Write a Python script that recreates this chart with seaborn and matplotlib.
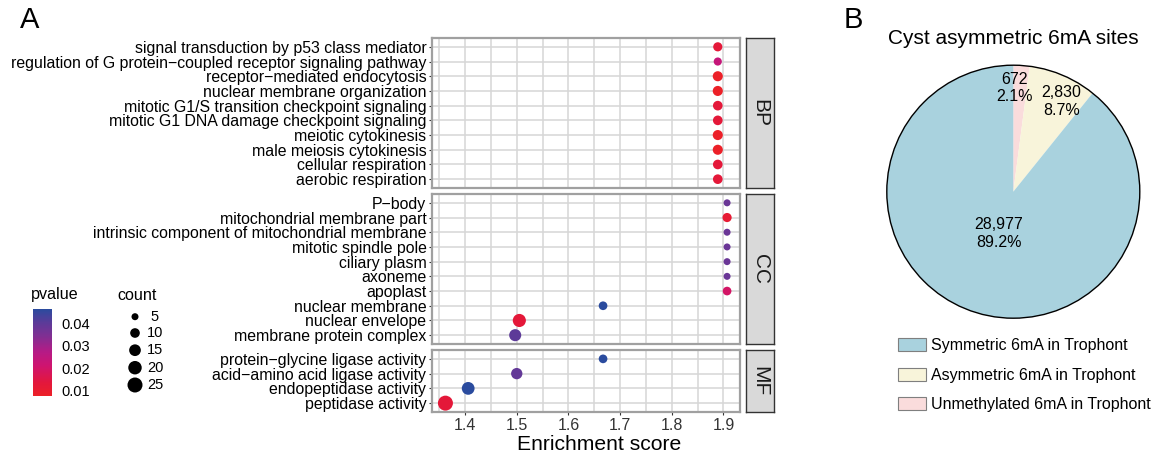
import numpy as np
import pandas as pd
import matplotlib
matplotlib.use("Agg")
import matplotlib.pyplot as plt
import seaborn as sns
from matplotlib.colors import LinearSegmentedColormap, Normalize
from matplotlib.cm import ScalarMappable
from matplotlib.patches import Patch, Circle

# ---------------- data ----------------
bp_terms = ["signal transduction by p53 class mediator",
            "regulation of G protein\u2212coupled receptor signaling pathway",
            "receptor\u2212mediated endocytosis",
            "nuclear membrane organization",
            "mitotic G1/S transition checkpoint signaling",
            "mitotic G1 DNA damage checkpoint signaling",
            "meiotic cytokinesis",
            "male meiosis cytokinesis",
            "cellular respiration",
            "aerobic respiration"]
bp_score = [1.889, 1.889, 1.889, 1.889, 1.889, 1.889, 1.889, 1.889, 1.889, 1.889]
bp_count = [9, 7, 11, 11, 10, 10, 11, 11, 10, 10]
bp_pvalue = [0.0125, 0.0235, 0.0078, 0.0075, 0.0125, 0.0125, 0.0078, 0.0078, 0.0125, 0.0125]

cc_terms = ["P\u2212body",
            "mitochondrial membrane part",
            "intrinsic component of mitochondrial membrane",
            "mitotic spindle pole",
            "ciliary plasm",
            "axoneme",
            "apoplast",
            "nuclear membrane",
            "nuclear envelope",
            "membrane protein complex"]
cc_score = [1.907, 1.907, 1.907, 1.907, 1.907, 1.907, 1.907, 1.667, 1.505, 1.497]
cc_count = [4, 9, 4, 4, 4, 4, 8, 8, 19, 16]
cc_pvalue = [0.0378, 0.0110, 0.0378, 0.0378, 0.0378, 0.0378, 0.0195, 0.0464, 0.0125, 0.0400]

mf_terms = ["protein\u2212glycine ligase activity",
            "acid\u2212amino acid ligase activity",
            "endopeptidase activity",
            "peptidase activity"]
mf_score = [1.667, 1.500, 1.406, 1.362]
mf_count = [8, 14, 18, 27]
mf_pvalue = [0.0464, 0.0390, 0.0464, 0.0125]

ontologies = ["BP", "CC", "MF"]

pie_labels = ["Unmethylated 6mA in Trophont", "Asymmetric 6mA in Trophont",
              "Symmetric 6mA in Trophont"]
pie_values = [672, 2830, 28977]
pie_colors = ["#FADCDC", "#F8F4DA", "#A9D2DE"]
legend_order = [2, 1, 0]

count_breaks = [5, 10, 15, 20, 25]
pvalue_breaks = [0.01, 0.02, 0.03, 0.04]

# ---------------- setup ----------------
sns.set_style("white")
plt.rcParams["font.family"] = ["Liberation Sans", "DejaVu Sans"]
plt.rcParams["text.color"] = "black"
plt.rcParams["axes.labelcolor"] = "black"

W, H = 1161, 459
fig = plt.figure(figsize=(W / 100, H / 100), dpi=100)


def px_axes(x0, y0, x1, y1, **kw):
    return fig.add_axes([x0 / W, 1 - y1 / H, (x1 - x0) / W, (y1 - y0) / H], **kw)


cmap = LinearSegmentedColormap.from_list(
    "pv", [(0.0, "#EC2027"), (0.15, "#E3173C"), (0.35, "#CE1470"),
           (0.5, "#B71A85"), (0.7, "#7D3093"), (0.85, "#5A3B99"),
           (1.0, "#2A4B9E")])
all_p = bp_pvalue + cc_pvalue + mf_pvalue
pnorm = (min(all_p), max(all_p))

size_lo, size_hi = 25.4, 116.6  # marker area (pt^2) for counts 5 and 25

frames = []
for ont, t, s, c, p in [("BP", bp_terms, bp_score, bp_count, bp_pvalue),
                        ("CC", cc_terms, cc_score, cc_count, cc_pvalue),
                        ("MF", mf_terms, mf_score, mf_count, mf_pvalue)]:
    frames.append(pd.DataFrame({"ont": ont, "term": t, "score": s,
                                "count": c, "pvalue": p}))
df = pd.concat(frames, ignore_index=True)

panel_y = {"BP": (38, 188), "CC": (194, 344), "MF": (350, 412)}
grid_col = "#D6D6D6"
xlim = (1.336, 1.932)
major = [1.4, 1.5, 1.6, 1.7, 1.8, 1.9]
minor = [1.35, 1.45, 1.55, 1.65, 1.75, 1.85]

for ont in ontologies:
    y0, y1 = panel_y[ont]
    ax = px_axes(432, y0, 740, y1)
    sub = df[df.ont == ont]
    n = len(sub)
    sns.scatterplot(data=sub, x="score", y="term", hue="pvalue", size="count",
                    palette=cmap, hue_norm=pnorm, sizes=(size_lo, size_hi),
                    size_norm=(5, 25), legend=False, ax=ax,
                    edgecolor="none", linewidth=0, zorder=3)
    ax.set_xlim(*xlim)
    ax.set_ylim(n - 1 + 0.6, -0.6)
    ax.set_xticks(major)
    ax.set_xticks(minor, minor=True)
    ax.set_yticks(range(n))
    ax.set_yticklabels(list(sub.term))
    ax.set_axisbelow(True)
    ax.grid(which="major", color=grid_col, lw=1.1)
    ax.grid(which="minor", axis="x", color=grid_col, lw=1.1)
    for sp in ax.spines.values():
        sp.set_color("#A0A0A0")
        sp.set_linewidth(1.6)
    ax.set_xlabel("")
    ax.set_ylabel("")
    ax.tick_params(axis="y", left=True, length=2.5, width=0.8, color="#333333",
                   labelsize=11.4, labelcolor="black", pad=1.5)
    ax.tick_params(axis="x", which="minor", length=0)
    if ont == "MF":
        ax.tick_params(axis="x", which="major", bottom=True, length=2.5, width=0.8,
                       color="#333333", labelsize=11.5, labelcolor="#333333", pad=2)
    else:
        ax.tick_params(axis="x", which="major", bottom=False, labelbottom=False)
    # facet strip
    sax = px_axes(746, y0, 774, y1)
    sax.set_xticks([])
    sax.set_yticks([])
    sax.set_facecolor("#D9D9D9")
    for sp in sax.spines.values():
        sp.set_color("#333333")
        sp.set_linewidth(1.0)
    sax.text(0.5, 0.5, ont, rotation=-90, ha="center", va="center",
             fontsize=15, color="#1A1A1A", transform=sax.transAxes)

fig.text(599 / W, 1 - 445 / H, "Enrichment score", ha="center", va="center",
         fontsize=15.2)
fig.text(20 / W, 1 - 20 / H, "A", ha="left", va="center", fontsize=21)
fig.text(844 / W, 1 - 20 / H, "B", ha="left", va="center", fontsize=21)

# ---------------- pvalue colorbar ----------------
cax = px_axes(33, 309, 52, 396)
cb = fig.colorbar(ScalarMappable(norm=Normalize(*pnorm), cmap=cmap), cax=cax)
cb.outline.set_visible(False)
cb.set_ticks(pvalue_breaks)
cb.set_ticklabels([f"{v:.2f}" for v in pvalue_breaks])
cax.tick_params(left=True, right=True, labelleft=False, labelright=True,
                direction="in", length=3.5, width=0.8, color="white",
                labelsize=10.5, labelcolor="black", pad=7)
fig.text(31 / W, 1 - 295 / H, "pvalue", ha="left", va="center", fontsize=11.6)

# ---------------- count legend ----------------
fig.text(117 / W, 1 - 295 / H, "count", ha="left", va="center", fontsize=11.6)
lax = px_axes(110, 305, 180, 395)
lax.set_xlim(0, 70)
lax.set_ylim(395, 305)
lax.axis("off")
leg_y = [316.7, 333.0, 350.2, 367.7, 385.0]
for cval, yy in zip(count_breaks, leg_y):
    area = size_lo + (cval - 5) / 20 * (size_hi - size_lo)
    lax.scatter([25], [yy], s=area, color="black", edgecolor="none")
    lax.text(45, yy, str(cval), ha="center", va="center", fontsize=10.5)

# ---------------- pie ----------------
cx, cy, r = 1013.3, 191.7, 126.5
pax = px_axes(cx - r, cy - r, cx + r, cy + r)
wedges, _ = pax.pie(pie_values, colors=pie_colors, startangle=90,
                    counterclock=False, wedgeprops=dict(linewidth=0))
pax.set_xlim(-1, 1)
pax.set_ylim(-1, 1)
pax.set_aspect("equal")
pax.add_patch(Circle((0, 0), 1, fill=False, edgecolor="black", lw=1.0,
                     clip_on=False))
total = sum(pie_values)
label_r = [0.82, 0.81, 0.35]
label_shift = [3.0, -5.0, 0.0]   # degrees, nudge to avoid overlap
ang = 90.0
for v, lr, sh in zip(pie_values, label_r, label_shift):
    span = 360.0 * v / total
    mid = np.deg2rad(ang - span / 2 + sh)
    ang -= span
    pax.text(lr * np.cos(mid), lr * np.sin(mid),
             f"{v:,}\n{100 * v / total:.1f}%", ha="center", va="center",
             fontsize=11.5, linespacing=1.2)
fig.text(cx / W, 1 - 38 / H, "Cyst asymmetric 6mA sites", ha="center",
         va="center", fontsize=15)

handles = [Patch(facecolor=pie_colors[i], edgecolor="#7F7F7F", lw=0.8)
           for i in legend_order]
labels = [pie_labels[i] for i in legend_order]
fig.legend(handles, labels, loc="upper left",
           bbox_to_anchor=(898 / W, 1 - 338 / H), frameon=False,
           fontsize=11.5, handlelength=1.75, handleheight=0.9,
           handletextpad=0.3, labelspacing=0.9, borderaxespad=0,
           borderpad=0)

fig.savefig("out.png", dpi=100)
